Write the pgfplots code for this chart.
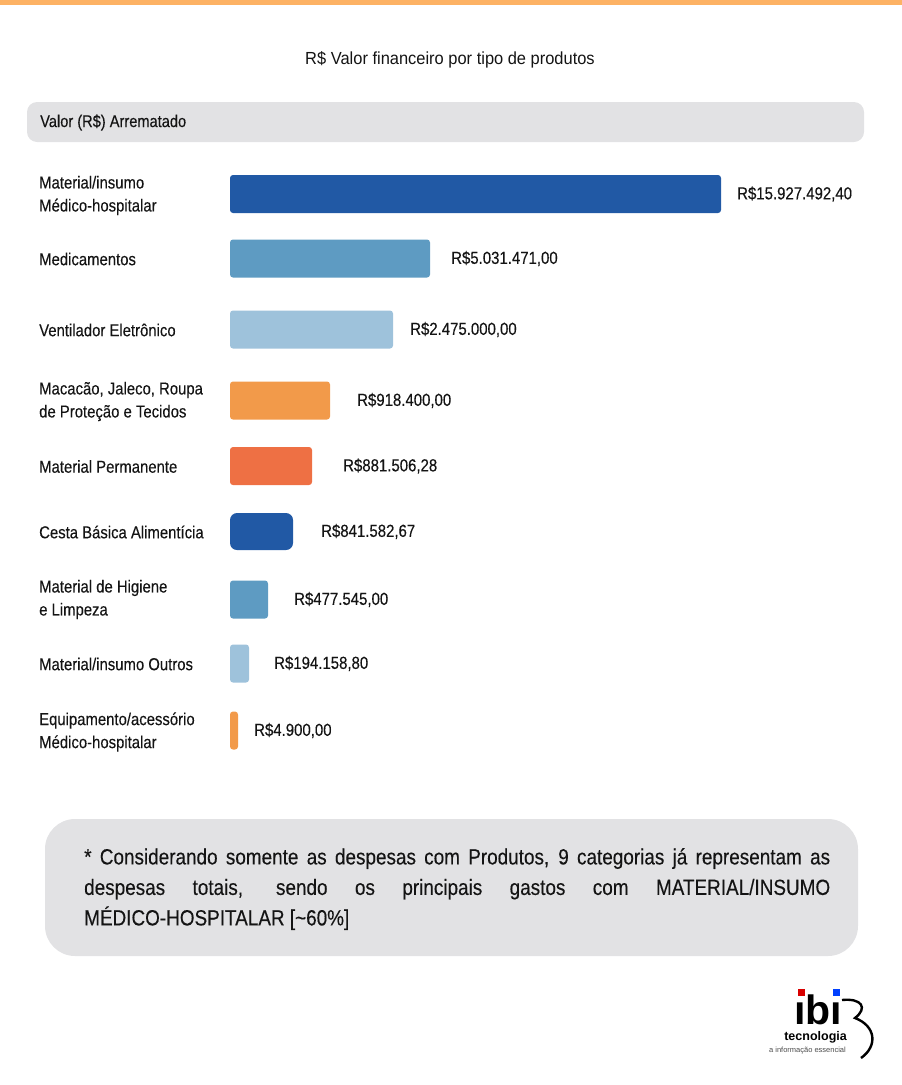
\documentclass[border=0pt]{standalone}
\usepackage{fontspec}
\setmainfont{Liberation Sans}
\newfontfamily\cond{Liberation Sans}[FakeStretch=0.86, FakeBold=0.25]
\newfontfamily\condt{Liberation Sans}[FakeStretch=0.94]
\usepackage{pgfplots}
\pgfplotsset{compat=1.18}

\definecolor{darkblue}{RGB}{33,89,165}
\definecolor{midblue}{RGB}{94,155,194}
\definecolor{lightblue}{RGB}{158,194,219}
\definecolor{orng}{RGB}{242,154,74}
\definecolor{redorng}{RGB}{238,112,68}
\definecolor{boxgray}{RGB}{226,226,228}
\definecolor{topline}{RGB}{253,178,100}
\definecolor{txt}{RGB}{20,20,20}

\begin{document}
\begin{tikzpicture}
\begin{scope}[x=1bp,y=-1bp]
\path (0,0) rectangle (902,1085);
\fill[topline] (0,0) rectangle (902,4.5);
\fill[boxgray, rounded corners=10bp] (27,102) rectangle (864,142);
\fill[boxgray, rounded corners=30bp] (45,819) rectangle (858,956);

\node[font=\condt\fontsize{17.5bp}{20bp}\selectfont, text=txt] at (450,60) {R\$ Valor financeiro por tipo de produtos};
\node[anchor=west, inner sep=0, font=\cond\fontsize{17bp}{20bp}\selectfont, text=txt] at (40,122.5) {Valor (R\$) Arrematado};

% category labels
\begin{scope}[every node/.style={anchor=west, inner sep=0, align=left, text=txt, font=\cond\fontsize{17.3bp}{23bp}\selectfont}]
\node at (39,195.5) {Material/insumo\\Médico-hospitalar};
\node at (39,259) {Medicamentos};
\node at (39,330) {Ventilador Eletrônico};
\node at (39,401.5) {Macacão, Jaleco, Roupa\\de Proteção e Tecidos};
\node at (39,466.5) {Material Permanente};
\node at (39,532) {Cesta Básica Alimentícia};
\node at (39,599.5) {Material de Higiene\\e Limpeza};
\node at (39,664) {Material/insumo Outros};
\node at (39,732) {Equipamento/acessório\\Médico-hospitalar};
\end{scope}

% note
\node[anchor=north west, inner sep=0, text width=746bp, align=justify, text=txt,
      font=\cond\fontsize{22bp}{30.5bp}\selectfont] at (84,848)
  {* Considerando somente as despesas com Produtos, 9 categorias já representam as\linebreak
   despesas totais, sendo os principais gastos com MATERIAL/INSUMO\linebreak
   MÉDICO-HOSPITALAR [\textasciitilde 60\%]};

% logo
\node[anchor=base west, inner sep=0, font=\bfseries\fontsize{41bp}{41bp}\selectfont] at (794,1024) {ıbı};
\fill[red!85!black] (798,989) rectangle (805,996);
\fill[blue!75!cyan] (833,989) rectangle (840,996);
\node[anchor=base east, inner sep=0, font=\bfseries\fontsize{12.5bp}{14bp}\selectfont] at (847,1040) {tecnologia};
\node[anchor=base east, inner sep=0, text=black!70, font=\fontsize{7.5bp}{8bp}\selectfont] at (846,1052) {a informação essencial};
\draw[line width=2.4bp] (842,1000) .. controls (862,998) and (868,1008) .. (855,1018)
  .. controls (876,1026) and (878,1046) .. (861,1058);
\end{scope}

\begin{axis}[at={(0,0)}, anchor=north west, width=902bp, height=1085bp, scale only axis,
  xmin=-230, xmax=672, ymin=0, ymax=1085, y dir=reverse, hide axis, clip=false]
\addplot[xbar, bar shift=0pt, bar width=38, fill=darkblue, draw=none, rounded corners=3bp]
  coordinates {(491,194)};
\addplot[xbar, bar shift=0pt, bar width=37, fill=darkblue, draw=none, rounded corners=7bp]
  coordinates {(63,531.5)};
\addplot[xbar, bar shift=0pt, bar width=38, fill=midblue, draw=none, rounded corners=3bp]
  coordinates {(200,258.5) (38,599.5)};
\addplot[xbar, bar shift=0pt, bar width=38, fill=lightblue, draw=none, rounded corners=3bp]
  coordinates {(163,329.5) (19,663.5)};
\addplot[xbar, bar shift=0pt, bar width=38, fill=orng, draw=none, rounded corners=3bp]
  coordinates {(100,400.5) (8,730.5)};
\addplot[xbar, bar shift=0pt, bar width=38, fill=redorng, draw=none, rounded corners=3bp]
  coordinates {(82,466)};
% value labels
\addplot[draw=none, nodes near coords, point meta=explicit symbolic,
  every node near coord/.append style={anchor=west, inner sep=0pt, text=txt,
    font=\cond\fontsize{17.4bp}{19bp}\selectfont}]
  coordinates {
  (507,194) [R\$15.927.492,40]
  (221,258.5) [R\$5.031.471,00]
  (180,329.5) [R\$2.475.000,00]
  (127,400.5) [R\$918.400,00]
  (113,466) [R\$881.506,28]
  (91,531.5) [R\$841.582,67]
  (64,599.5) [R\$477.545,00]
  (44,663.5) [R\$194.158,80]
  (24,730.5) [R\$4.900,00]
  };
\end{axis}
\end{tikzpicture}
\end{document}
